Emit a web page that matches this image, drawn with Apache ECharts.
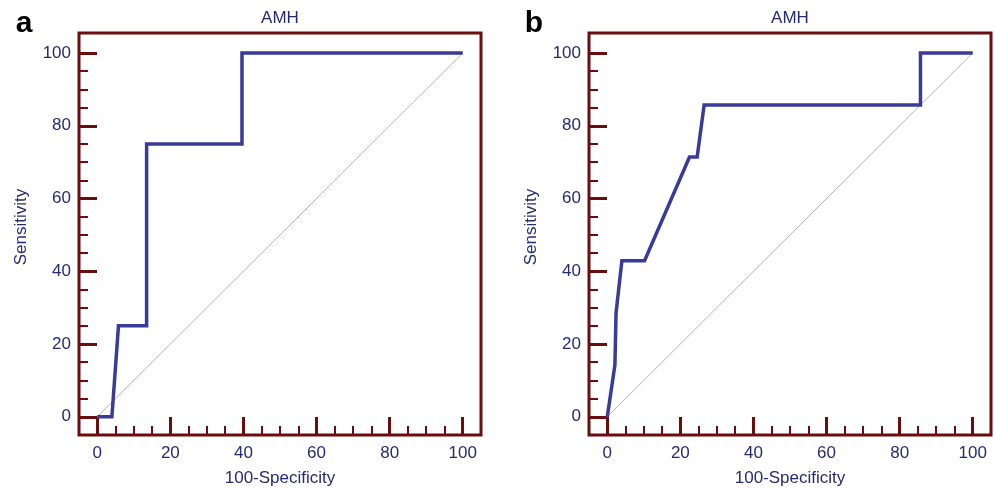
<!DOCTYPE html>
<html>
<head>
<meta charset="utf-8">
<script src="https://cdn.jsdelivr.net/npm/echarts@6/dist/echarts.min.js"></script>
<style>
html,body{margin:0;padding:0;background:#fff;}
#chart{width:994px;height:490px;}
</style>
</head>
<body>
<div id="chart"></div>
<script>
// ---- data ----
const panelLetters = ['a', 'b'];
const panelTitles = ['AMH', 'AMH'];
const xAxisName = '100-Specificity';
const yAxisName = 'Sensitivity';
const majorTicks = [0, 20, 40, 60, 80, 100];
const minorTicks = [5, 10, 15, 25, 30, 35, 45, 50, 55, 65, 70, 75, 85, 90, 95];
// panel a ROC curve
const rocAx = [0, 4, 5.8, 13.5, 13.5, 39.6, 39.6, 100];
const rocAy = [0, 0, 25, 25, 75, 75, 100, 100];
// panel b ROC curve
const rocBx = [0, 2.1, 2.4, 4, 10.2, 22.5, 24.6, 26.5, 85.7, 85.7, 100];
const rocBy = [0, 14.3, 28.6, 42.9, 42.9, 71.4, 71.4, 85.7, 85.7, 100, 100];
// reference diagonal
const diagX = [0, 100];
const diagY = [0, 100];

// ---- styles ----
const FRAME = '#6b0c0e';
const NAVY = '#262a72';
const CURVE = '#3a3a9a';
const DIAG = '#bcb0ae';
const FONT = '"Liberation Sans", Arial, Helvetica, sans-serif';

const zip = (xs, ys) => xs.map((x, i) => [x, ys[i]]);

const grids = [
  { left: 79, top: 33, width: 402, height: 402 },
  { left: 589, top: 33, width: 402, height: 402 }
];

const xAxes = [], yAxes = [], series = [], graphics = [];

grids.forEach((g, gi) => {
  const base = {
    gridIndex: gi,
    type: 'value',
    axisLine: { show: false, onZero: false },
    splitLine: { show: false },
    minorTick: { show: false }
  };
  xAxes.push(Object.assign({}, base, {
    position: 'bottom', min: -5, max: 105,
    axisTick: { show: true, inside: true, length: 18, customValues: majorTicks,
      lineStyle: { color: FRAME, width: 3 } },
    axisLabel: { show: true, customValues: majorTicks, margin: 10,
      color: NAVY, fontSize: 17, fontFamily: FONT }
  }));
  xAxes.push(Object.assign({}, base, {
    position: 'bottom', min: -5, max: 105,
    axisTick: { show: true, inside: true, length: 9, customValues: minorTicks,
      lineStyle: { color: FRAME, width: 2 } },
    axisLabel: { show: false }
  }));
  yAxes.push(Object.assign({}, base, {
    position: 'left', min: -5, max: 105.5,
    axisTick: { show: true, inside: true, length: 18, customValues: majorTicks,
      lineStyle: { color: FRAME, width: 3 } },
    axisLabel: { show: true, customValues: majorTicks, margin: 8,
      color: NAVY, fontSize: 17, fontFamily: FONT }
  }));
  yAxes.push(Object.assign({}, base, {
    position: 'left', min: -5, max: 105.5,
    axisTick: { show: true, inside: true, length: 9, customValues: minorTicks,
      lineStyle: { color: FRAME, width: 2 } },
    axisLabel: { show: false }
  }));

  const xi = gi * 2, yi = gi * 2;
  series.push({
    type: 'line', xAxisIndex: xi, yAxisIndex: yi,
    data: zip(diagX, diagY), showSymbol: false, symbol: 'none',
    lineStyle: { color: DIAG, width: 1 }, z: 2, silent: true
  });
  series.push({
    type: 'line', xAxisIndex: xi, yAxisIndex: yi,
    data: zip(gi === 0 ? rocAx : rocBx, gi === 0 ? rocAy : rocBy),
    showSymbol: false, symbol: 'none',
    lineStyle: { color: CURVE, width: 3.5, join: 'miter' }, z: 3, silent: true
  });

  const cx = g.left + g.width / 2;
  graphics.push({ type: 'text', x: cx, y: 18, silent: true,
    style: { text: panelTitles[gi], fill: NAVY, font: '17px ' + FONT, align: 'center', verticalAlign: 'middle' } });
  graphics.push({ type: 'text', x: cx, y: 478, silent: true,
    style: { text: xAxisName, fill: NAVY, font: '17px ' + FONT, align: 'center', verticalAlign: 'middle' } });
  graphics.push({ type: 'text', x: g.left - 58, y: 227, rotation: Math.PI / 2, silent: true,
    style: { text: yAxisName, fill: NAVY, font: '17px ' + FONT, align: 'center', verticalAlign: 'middle' } });
  graphics.push({ type: 'text', x: g.left - 55, y: 24, silent: true,
    style: { text: panelLetters[gi], fill: '#000', font: 'bold 30px ' + FONT, align: 'center', verticalAlign: 'middle' } });
});

const chart = echarts.init(document.getElementById('chart'), null, { renderer: 'canvas' });
chart.setOption({
  animation: false,
  backgroundColor: '#fff',
  grid: grids.map(g => Object.assign({ show: true, borderColor: FRAME, borderWidth: 3, backgroundColor: '#fff', containLabel: false }, g)),
  xAxis: xAxes,
  yAxis: yAxes,
  series: series,
  graphic: graphics
});
</script>
</body>
</html>
